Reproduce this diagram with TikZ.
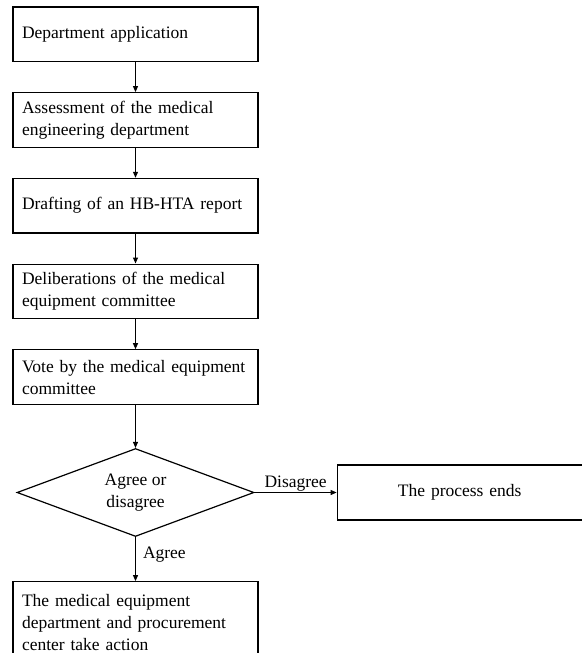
\documentclass[tikz,border=0pt]{standalone}
\usepackage{fontspec}
\setmainfont{Liberation Serif}
\usetikzlibrary{positioning,arrows.meta,shapes.geometric}

\begin{document}
\begin{tikzpicture}[
    x=1pt, y=1pt,
    node distance=30pt and 82pt,
    every node/.style={font=\fontsize{17.5}{22}\selectfont},
    box/.style={draw, line width=1.2pt, align=left, text width=227pt, minimum width=245pt, minimum height=54.5pt, inner xsep=9pt, inner ysep=3pt},
    dec/.style={draw, diamond, line width=1.2pt, align=center, aspect=2.7, inner sep=0pt, minimum width=237pt, minimum height=88pt},
    arr/.style={-{Triangle[length=6pt,width=5pt]}, line width=1pt}
  ]
    \useasboundingbox (0,0) rectangle (581,-653);

    \node[box] (apply) at (135.5,-34.25) {Department application};
    \node[box, below=of apply] (assess) {Assessment of the medical\\engineering department};
    \node[box, below=of assess] (draft) {Drafting of an HB-HTA report};
    \node[box, below=of draft] (delib) {Deliberations of the medical\\equipment committee};
    \node[box, below=of delib] (vote) {Vote by the medical equipment\\committee};

    \node[dec, below=43pt of vote] (check) {Agree or\\disagree};
    \node[box, align=center, minimum height=55pt, right=of check] (stop) {The process ends};
    \node[box, minimum height=82pt, below=44pt of check] (act) {The medical equipment\\department and procurement\\center take action};

    \draw[arr] (apply) -- (assess);
    \draw[arr] (assess) -- (draft);
    \draw[arr] (draft) -- (delib);
    \draw[arr] (delib) -- (vote);
    \draw[arr] (vote) -- (check);

    \draw[arr] (check.east) -- node[above, inner sep=1pt] {Disagree} (stop.west);
    \draw[arr] (check.south) -- node[right, pos=0.4, inner sep=7pt] {Agree} (act.north);
  \end{tikzpicture}
\end{document}
